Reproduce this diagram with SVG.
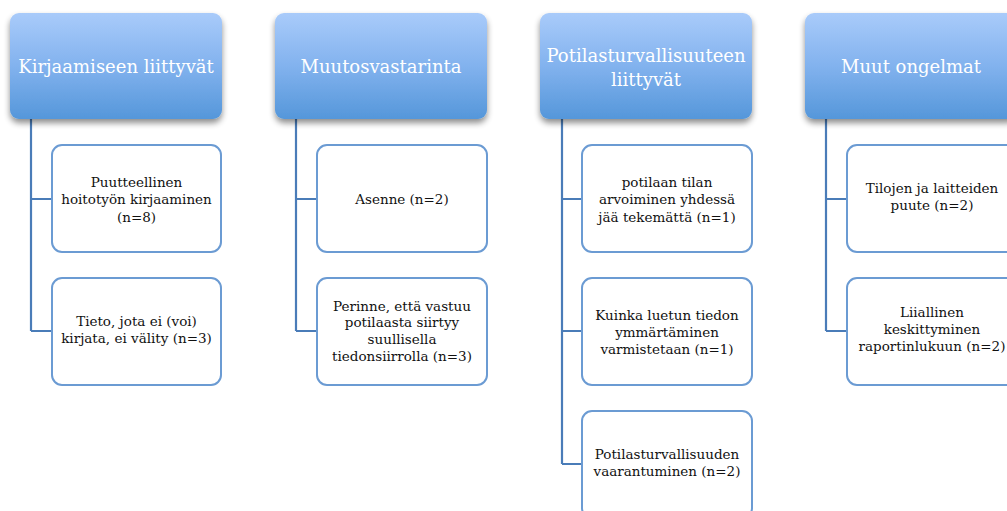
<svg xmlns="http://www.w3.org/2000/svg" width="1007" height="511" viewBox="0 0 1007 511">
<defs>
<linearGradient id="hg" x1="0" y1="0" x2="0" y2="1">
<stop offset="0" stop-color="#a9cbfa"/>
<stop offset="0.5" stop-color="#82b2ee"/>
<stop offset="1" stop-color="#5597da"/>
</linearGradient>
<filter id="sh" x="-10%" y="-10%" width="120%" height="130%">
<feGaussianBlur in="SourceAlpha" stdDeviation="3"/>
<feOffset dx="0" dy="4" result="b"/>
<feComponentTransfer><feFuncA type="linear" slope="0.45"/></feComponentTransfer>
<feMerge><feMergeNode/><feMergeNode in="SourceGraphic"/></feMerge>
</filter>
</defs>
<style>
.hd{fill:url(#hg);filter:url(#sh)}
.ht{font-family:"DejaVu Serif","Liberation Serif",serif;font-size:18px;fill:#ffffff;text-anchor:middle}
.bx{fill:#ffffff;stroke:#6b9bd3;stroke-width:2}
.bt{font-family:"DejaVu Serif","Liberation Serif",serif;font-size:13.5px;fill:#111111;text-anchor:middle}
.cn{fill:none;stroke:#4a7cb8;stroke-width:2.2}
</style>
<rect width="1007" height="511" fill="#ffffff"/>
<g id="connectors">
<path class="cn" d="M31 119 V331 M31 199 H52 M31 331 H52"/>
<path class="cn" d="M296 119 V331 M296 199 H317 M296 331 H317"/>
<path class="cn" d="M562 119 V464 M562 199 H582 M562 331 H582 M562 464 H582"/>
<path class="cn" d="M826 119 V331 M826 199 H847 M826 331 H847"/>
</g>
<g id="h1"><rect class="hd" x="10" y="13" width="212" height="106" rx="9"/><text class="ht" x="116" y="73">Kirjaamiseen liittyvät</text></g>
<g id="h2"><rect class="hd" x="275" y="13" width="212" height="106" rx="9"/><text class="ht" x="381" y="73">Muutosvastarinta</text></g>
<g id="h3"><rect class="hd" x="540" y="13" width="212" height="106" rx="9"/><text class="ht" x="646" y="62">Potilasturvallisuuteen</text><text class="ht" x="646" y="86">liittyvät</text></g>
<g id="h4"><rect class="hd" x="805" y="13" width="212" height="106" rx="9"/><text class="ht" x="911" y="73">Muut ongelmat</text></g>
<g id="c1a"><rect class="bx" x="52" y="145" width="169" height="107" rx="10"/><text class="bt" x="136.5" y="187">Puutteellinen</text><text class="bt" x="136.5" y="204">hoitotyön kirjaaminen</text><text class="bt" x="136.5" y="222">(n=8)</text></g>
<g id="c1b"><rect class="bx" x="52" y="278" width="169" height="107" rx="10"/><text class="bt" x="136.5" y="326">Tieto, jota ei (voi)</text><text class="bt" x="136.5" y="343">kirjata, ei välity (n=3)</text></g>
<g id="c2a"><rect class="bx" x="317" y="145" width="170" height="107" rx="10"/><text class="bt" x="402" y="204">Asenne (n=2)</text></g>
<g id="c2b"><rect class="bx" x="317" y="278" width="170" height="107" rx="10"/><text class="bt" x="402" y="311">Perinne, että vastuu</text><text class="bt" x="402" y="327">potilaasta siirtyy</text><text class="bt" x="402" y="344">suullisella</text><text class="bt" x="402" y="361">tiedonsiirrolla (n=3)</text></g>
<g id="c3a"><rect class="bx" x="582" y="145" width="170" height="107" rx="10"/><text class="bt" x="667" y="187">potilaan tilan</text><text class="bt" x="667" y="204">arvoiminen yhdessä</text><text class="bt" x="667" y="222">jää tekemättä (n=1)</text></g>
<g id="c3b"><rect class="bx" x="582" y="278" width="170" height="107" rx="10"/><text class="bt" x="667" y="320">Kuinka luetun tiedon</text><text class="bt" x="667" y="337">ymmärtäminen</text><text class="bt" x="667" y="354">varmistetaan (n=1)</text></g>
<g id="c3c"><rect class="bx" x="582" y="411" width="170" height="107" rx="10"/><text class="bt" x="667" y="459">Potilasturvallisuuden</text><text class="bt" x="667" y="476">vaarantuminen (n=2)</text></g>
<g id="c4a"><rect class="bx" x="847" y="145" width="170" height="107" rx="10"/><text class="bt" x="932" y="193">Tilojen ja laitteiden</text><text class="bt" x="932" y="210">puute (n=2)</text></g>
<g id="c4b"><rect class="bx" x="847" y="278" width="170" height="107" rx="10"/><text class="bt" x="932" y="317">Liiallinen</text><text class="bt" x="932" y="334">keskittyminen</text><text class="bt" x="932" y="351">raportinlukuun (n=2)</text></g>
</svg>
